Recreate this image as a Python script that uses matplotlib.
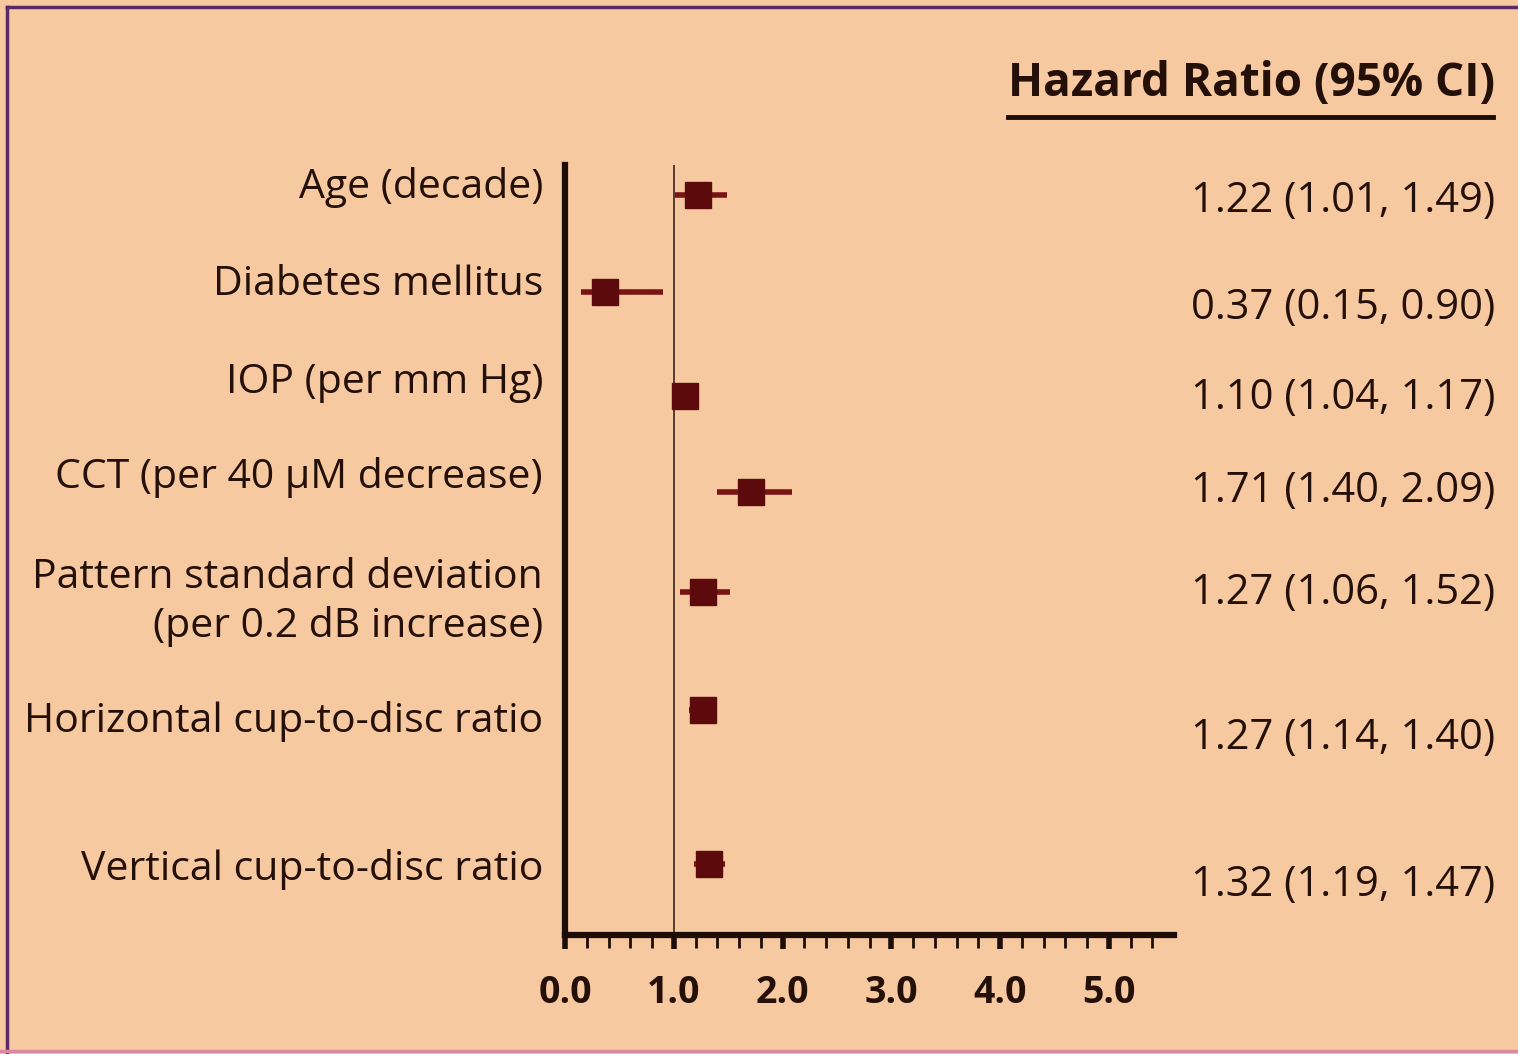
import matplotlib
matplotlib.use("Agg")
import matplotlib.pyplot as plt
from matplotlib.lines import Line2D

# data
labels = ["Age (decade)", "Diabetes mellitus", "IOP (per mm Hg)",
          "CCT (per 40 \u00b5M decrease)",
          "Pattern standard deviation\n(per 0.2 dB increase)",
          "Horizontal cup-to-disc ratio", "Vertical cup-to-disc ratio"]
hr = [1.22, 0.37, 1.10, 1.71, 1.27, 1.27, 1.32]
lo = [1.01, 0.15, 1.04, 1.40, 1.06, 1.14, 1.19]
hi = [1.49, 0.90, 1.17, 2.09, 1.52, 1.40, 1.47]
xticks = [0, 1, 2, 3, 4, 5]
xticklabels = ["0.0", "1.0", "2.0", "3.0", "4.0", "5.0"]

# layout: pixel rows of the markers / labels / right column (figure is 1518x1054)
row_y = [195, 292, 396, 492, 592, 710, 864]
label_y = [187, 285, 383, 478, 602, 722, 869]
ci_y = [201, 308, 398, 491, 593, 738, 885]

W, H = 1518, 1054
bg = "#f6c9a0"
txt = "#241008"
mark = "#5c0a0c"
ci_col = "#7a1414"
fnt = "Open Sans"

fig = plt.figure(figsize=(W / 100, H / 100), dpi=100)
fig.patch.set_facecolor(bg)

x0, x1 = 565, 1174
ytop, ybot = 165, 935
ax = fig.add_axes([x0 / W, 1 - ybot / H, (x1 - x0) / W, (ybot - ytop) / H])
ax.set_facecolor(bg)
ax.set_xlim(0, 5.6)
ax.set_ylim(ybot, ytop)

ax.axvline(1.0, color="#4a3028", lw=1.3, zorder=1)
for i in range(len(hr)):
    ax.plot([lo[i], hi[i]], [row_y[i], row_y[i]], color=ci_col, lw=4,
            solid_capstyle="butt", zorder=2)
ax.plot(hr, row_y, "s", color=mark, markersize=18.5, zorder=3)

for s in ["top", "right"]:
    ax.spines[s].set_visible(False)
ax.spines["left"].set_linewidth(4.5)
ax.spines["bottom"].set_linewidth(4.5)
ax.spines["left"].set_color("#1e0c08")
ax.spines["bottom"].set_color("#1e0c08")
ax.set_yticks([])
ax.set_xticks(xticks)
ax.set_xticklabels(xticklabels, fontsize=27, fontweight="bold",
                   color=txt, family=fnt)
ax.set_xticks([k * 0.2 for k in range(28) if k % 5 != 0], minor=True)
ax.tick_params(axis="x", which="major", length=10, width=4, color="#1e0c08", pad=18)
ax.tick_params(axis="x", which="minor", length=9, width=2, color="#1e0c08")

for lab, y in zip(labels, label_y):
    fig.text(543 / W, 1 - y / H, lab, ha="right", va="center", fontsize=29.5,
             color=txt, family=fnt, linespacing=1.25)
for i, y in enumerate(ci_y):
    s = "%.2f (%.2f, %.2f)" % (hr[i], lo[i], hi[i])
    fig.text(1495 / W, 1 - y / H, s, ha="right", va="center", fontsize=30,
             color=txt, family=fnt)

fig.text(1495 / W, 1 - 83 / H, "Hazard Ratio (95% CI)", ha="right", va="center",
         fontsize=33, fontweight="bold", color=txt, family=fnt)
fig.add_artist(Line2D([1008 / W, 1493 / W], [1 - 117 / H, 1 - 117 / H],
                      color="#1e0c08", lw=3.5))

# frame lines of the scanned box
fig.add_artist(Line2D([7 / W, 1], [1 - 7 / H, 1 - 7 / H], color="#5a2a66", lw=2.5))
fig.add_artist(Line2D([7 / W, 7 / W], [1 - 7 / H, 0], color="#5a2a66", lw=2.5))
fig.add_artist(Line2D([0, 1], [1 - 1051 / H, 1 - 1051 / H], color="#d88aa0", lw=2.5))

fig.savefig("out.png", dpi=100, facecolor=bg)
